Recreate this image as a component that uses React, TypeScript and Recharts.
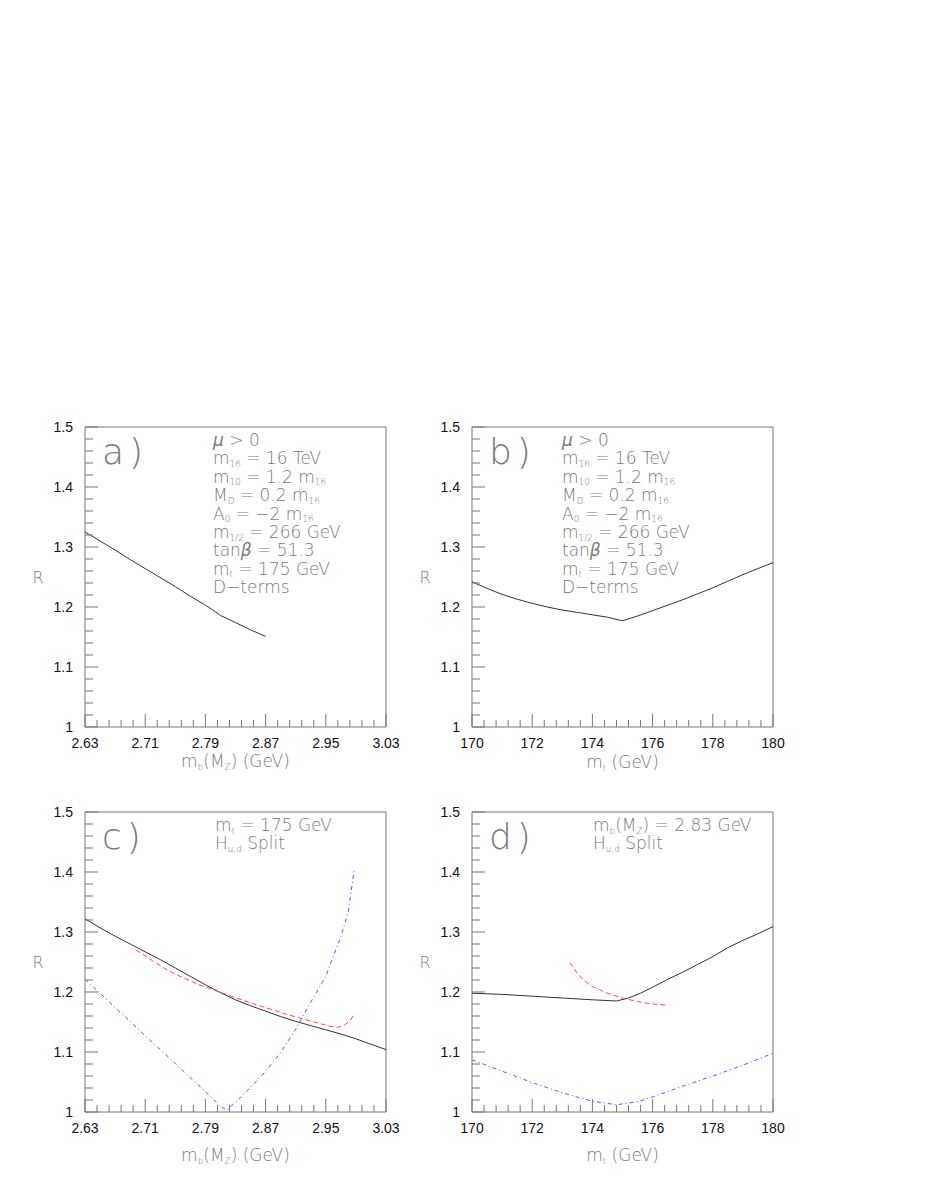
import React from 'react';
import { LineChart, Line, XAxis, YAxis, ReferenceArea } from 'recharts';

// panel a) R vs m_b(M_Z), D-terms
const mbA = [2.63, 2.65, 2.67, 2.69, 2.71, 2.73, 2.75, 2.77, 2.79, 2.8, 2.81, 2.83, 2.85, 2.87];
const rA = [1.325, 1.31, 1.295, 1.279, 1.264, 1.249, 1.234, 1.218, 1.203, 1.195, 1.186, 1.174, 1.162, 1.151];

// panel b) R vs m_t, D-terms
const mtB = [170, 170.5, 171, 171.5, 172, 172.5, 173, 173.5, 174, 174.5, 175, 175.5, 176, 176.5, 177, 177.5, 178, 178.5, 179, 179.5, 180];
const rB = [1.242, 1.231, 1.221, 1.213, 1.206, 1.2, 1.195, 1.191, 1.187, 1.183, 1.177, 1.185, 1.194, 1.203, 1.212, 1.222, 1.232, 1.243, 1.254, 1.264, 1.274];

// panel c) H_u,d split, m_t = 175 GeV
const mbC = [2.63, 2.65, 2.67, 2.69, 2.71, 2.73, 2.75, 2.77, 2.79, 2.81, 2.83, 2.85, 2.87, 2.89, 2.91, 2.93, 2.95, 2.97, 2.99, 3.01, 3.03];
const rC = [1.322, 1.307, 1.293, 1.28, 1.267, 1.254, 1.24, 1.226, 1.212, 1.199, 1.187, 1.177, 1.168, 1.159, 1.151, 1.144, 1.137, 1.13, 1.122, 1.113, 1.104];
const mbCRed = [2.698, 2.72, 2.74, 2.76, 2.78, 2.8, 2.82, 2.84, 2.86, 2.88, 2.9, 2.92, 2.94, 2.955, 2.965, 2.975, 2.982, 2.988];
const rCRed = [1.27, 1.252, 1.236, 1.224, 1.213, 1.204, 1.195, 1.186, 1.178, 1.17, 1.162, 1.155, 1.148, 1.143, 1.141, 1.145, 1.152, 1.163];
const mbCBlue = [2.63, 2.65, 2.67, 2.69, 2.71, 2.73, 2.75, 2.77, 2.79, 2.81, 2.818, 2.83, 2.85, 2.87, 2.89, 2.91, 2.93, 2.95, 2.96, 2.97, 2.98, 2.988];
const rCBlue = [1.221, 1.198, 1.174, 1.151, 1.127, 1.104, 1.081, 1.057, 1.034, 1.01, 1.003, 1.016, 1.041, 1.068, 1.099, 1.138, 1.183, 1.226, 1.26, 1.292, 1.335, 1.406];

// panel d) H_u,d split, m_b(M_Z) = 2.83 GeV
const mtD = [170, 171, 172, 173, 174, 174.8, 175.2, 175.6, 176, 176.5, 177, 177.5, 178, 178.5, 179, 179.5, 180];
const rD = [1.198, 1.196, 1.193, 1.19, 1.187, 1.185, 1.19, 1.198, 1.208, 1.221, 1.233, 1.246, 1.259, 1.274, 1.286, 1.297, 1.309];
const mtDRed = [173.25, 173.5, 173.75, 174, 174.5, 175, 175.5, 176, 176.5];
const rDRed = [1.249, 1.231, 1.218, 1.209, 1.198, 1.19, 1.184, 1.18, 1.178];
const mtDBlue = [170, 171, 172, 173, 174, 174.8, 175.5, 176, 177, 178, 179, 180];
const rDBlue = [1.087, 1.068, 1.049, 1.032, 1.018, 1.012, 1.017, 1.025, 1.043, 1.06, 1.078, 1.098];

// axis ticks
const yMajor = [1, 1.1, 1.2, 1.3, 1.4, 1.5];
const mbMajor = [2.63, 2.71, 2.79, 2.87, 2.95, 3.03];
const mtMajor = [170, 172, 174, 176, 178, 180];

const minorTicks = (from: number, step: number, n: number) =>
  Array.from({ length: n }, (_, i) => Math.round((from + i * step) * 1000) / 1000);
const yTicks = minorTicks(1, 0.02, 26);
const mbTicks = minorTicks(2.63, 0.016, 26);
const mtTicks = minorTicks(170, 0.4, 26);

const zip = (xs: number[], ys: number[]) => xs.map((x, i) => ({ x, r: ys[i] }));
const isMajor = (v: number, majors: number[]) => majors.some((m) => Math.abs(m - v) < 1e-6);

const PW = 301;
const PH = 300;
const FRAME = '#777';
const TEXT = '#7a7a7a';
const TXT_FONT = '"DejaVu Sans", sans-serif';
const NUM_FONT = '"Liberation Sans", Arial, sans-serif';

const YTick = (props: any) => {
  const { x, y, payload } = props;
  const major = isMajor(payload.value, yMajor);
  return (
    <g>
      <line x1={x} y1={y} x2={x + (major ? 13 : 8)} y2={y} stroke={FRAME} strokeWidth={1} />
      {major && (
        <text x={x - 12} y={y + 5} textAnchor="end" fontSize={14} fontFamily={NUM_FONT} fill="#111">
          {String(payload.value)}
        </text>
      )}
    </g>
  );
};

const XTick = (props: any) => {
  const { x, y, payload, majors } = props;
  const major = isMajor(payload.value, majors);
  return (
    <g>
      <line x1={x} y1={y} x2={x} y2={y - (major ? 13 : 7)} stroke={FRAME} strokeWidth={1} />
      {major && (
        <text x={x} y={y + 21} textAnchor="middle" fontSize={14} fontFamily={NUM_FONT} fill="#111">
          {String(payload.value)}
        </text>
      )}
    </g>
  );
};

type Series = { data: { x: number; r: number }[]; color: string; dash?: string };

const Panel = ({ left, top, domain, ticks, majors, series }: any) => (
  <div style={{ position: 'absolute', left: left - 70, top: top - 20 }}>
    <LineChart width={70 + PW + 20} height={20 + PH + 60} margin={{ top: 20, right: 20, left: 30, bottom: 20 }}>
      <XAxis
        type="number"
        dataKey="x"
        domain={domain}
        ticks={ticks}
        interval={0}
        allowDataOverflow
        axisLine={false}
        tickLine={false}
        tickSize={0}
        tickMargin={0}
        height={40}
        tick={(p: any) => <XTick {...p} majors={majors} />}
      />
      <YAxis
        type="number"
        domain={[1, 1.5]}
        ticks={yTicks}
        interval={0}
        allowDataOverflow
        width={40}
        axisLine={false}
        tickLine={false}
        tickSize={0}
        tickMargin={0}
        tick={(p: any) => <YTick {...p} />}
      />
      <ReferenceArea x1={domain[0]} x2={domain[1]} y1={1} y2={1.5} fill="none" stroke={FRAME} strokeWidth={1} />
      {series.map((s: Series, i: number) => (
        <Line
          key={i}
          data={s.data}
          dataKey="r"
          type="linear"
          stroke={s.color}
          strokeWidth={1}
          strokeDasharray={s.dash}
          dot={false}
          activeDot={false}
          isAnimationActive={false}
        />
      ))}
    </LineChart>
  </div>
);

type Seg = string | [string, 'sub' | 'it'];

const Rich = ({ x, y, segs, size = 17, anchor = 'start' }: { x: number; y: number; segs: Seg[]; size?: number; anchor?: string }) => {
  let low = false;
  const parts = segs.map((s, i) => {
    if (typeof s !== 'string' && s[1] === 'sub') {
      const dy = low ? 0 : 2.5;
      low = true;
      return (
        <tspan key={i} dy={dy} fontSize={size * 0.52}>
          {s[0]}
        </tspan>
      );
    }
    const dy = low ? -2.5 : 0;
    low = false;
    const txt = typeof s === 'string' ? s : s[0];
    return (
      <tspan key={i} dy={dy} fontStyle={typeof s !== 'string' ? 'italic' : undefined}>
        {txt}
      </tspan>
    );
  });
  return (
    <text x={x} y={y} fontSize={size} fontFamily={TXT_FONT} fontWeight={200} fill={TEXT} textAnchor={anchor} style={{ whiteSpace: 'pre' }}>
      {parts}
    </text>
  );
};

const paramLines: Seg[][] = [
  [['μ', 'it'], ' > 0'],
  ['m', ['16', 'sub'], ' = 16 TeV'],
  ['m', ['10', 'sub'], ' = 1.2 m', ['16', 'sub']],
  ['M', ['D', 'sub'], ' = 0.2 m', ['16', 'sub']],
  ['A', ['0', 'sub'], ' = −2 m', ['16', 'sub']],
  ['m', ['1/2', 'sub'], ' = 266 GeV'],
  ['tan', ['β', 'it'], ' = 51.3'],
  ['m', ['t', 'sub'], ' = 175 GeV'],
  ['D−terms'],
];
const splitMtLines: Seg[][] = [['m', ['t', 'sub'], ' = 175 GeV'], ['H', ['u,d', 'sub'], ' Split']];
const splitMbLines: Seg[][] = [['m', ['b', 'sub'], '(M', ['Z', 'sub'], ') = 2.83 GeV'], ['H', ['u,d', 'sub'], ' Split']];
const mbLabel: Seg[] = ['m', ['b', 'sub'], '(M', ['Z', 'sub'], ') (GeV)'];
const mtLabel: Seg[] = ['m', ['t', 'sub'], ' (GeV)'];

const panels = [
  { id: 'a', left: 85, top: 427, domain: [2.63, 3.03], ticks: mbTicks, majors: mbMajor, textX: 213, lines: paramLines, xLabel: mbLabel, labelDy: 340,
    series: [{ data: zip(mbA, rA), color: '#333' }] },
  { id: 'b', left: 472, top: 427, domain: [170, 180], ticks: mtTicks, majors: mtMajor, textX: 562, lines: paramLines, xLabel: mtLabel, labelDy: 341,
    series: [{ data: zip(mtB, rB), color: '#333' }] },
  { id: 'c', left: 85, top: 812, domain: [2.63, 3.03], ticks: mbTicks, majors: mbMajor, textX: 215, lines: splitMtLines, xLabel: mbLabel, labelDy: 349,
    series: [
      { data: zip(mbC, rC), color: '#333' },
      { data: zip(mbCRed, rCRed), color: '#ff4a4a', dash: '5 3' },
      { data: zip(mbCBlue, rCBlue), color: '#5a5aff', dash: '4 3 1 3' },
    ] },
  { id: 'd', left: 472, top: 812, domain: [170, 180], ticks: mtTicks, majors: mtMajor, textX: 593, lines: splitMbLines, xLabel: mtLabel, labelDy: 349,
    series: [
      { data: zip(mtD, rD), color: '#333' },
      { data: zip(mtDRed, rDRed), color: '#ff4a4a', dash: '5 3' },
      { data: zip(mtDBlue, rDBlue), color: '#5a5aff', dash: '4 3 1 3' },
    ] },
];

export default function App() {
  return (
    <div style={{ position: 'absolute', left: 0, top: 0, width: 926, height: 1199, background: '#fff' }}>
      {panels.map((p) => (
        <Panel key={p.id} left={p.left} top={p.top} domain={p.domain} ticks={p.ticks} majors={p.majors} series={p.series} />
      ))}
      <svg width={926} height={1199} style={{ position: 'absolute', left: 0, top: 0, pointerEvents: 'none' }}>
        {panels.map((p) => (
          <g key={p.id}>
            <text x={p.left + 17} y={p.top + 37} fontSize={36} fontFamily={TXT_FONT} fontWeight={200} fill={TEXT} letterSpacing={5}>
              {p.id + ')'}
            </text>
            {p.lines.map((segs, i) => (
              <Rich key={i} x={p.textX} y={p.top + 19 + i * 18.4} segs={segs} />
            ))}
            <text x={p.left - 47} y={p.top + 156} fontSize={16} fontFamily={TXT_FONT} fontWeight={200} fill={TEXT} textAnchor="middle">
              R
            </text>
            <Rich x={p.left + PW / 2} y={p.top + p.labelDy} segs={p.xLabel} anchor="middle" />
          </g>
        ))}
      </svg>
    </div>
  );
}
